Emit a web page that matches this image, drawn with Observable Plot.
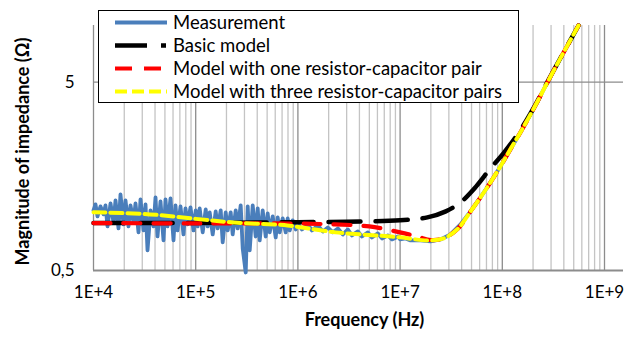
<!DOCTYPE html>
<html>
<head>
<meta charset="utf-8">
<script src="https://cdn.jsdelivr.net/npm/d3@7"></script>
<script src="https://cdn.jsdelivr.net/npm/@observablehq/plot@0.6"></script>
<style>
  html, body { margin: 0; padding: 0; background: #fff; }
  #wrap { position: relative; width: 624px; height: 338px; font-family: Lato, "Open Sans", sans-serif; }
  #legend { position: absolute; left: 98px; top: 10px; width: 419px; height: 91px; border: 1px solid #000; background: #fff; }
  #legend .row { position: absolute; left: 0; height: 23px; width: 100%; }
  #legend svg { position: absolute; left: 0; top: 0; }
  #legend span { position: absolute; left: 74px; top: 0; line-height: 23px; font-size: 18.5px; color: #000; white-space: nowrap; }
</style>
</head>
<body>
<div id="wrap"></div>
<script>
// ---- data ----
const seriesNames = ["Measurement", "Basic model", "Model with one resistor-capacitor pair", "Model with three resistor-capacitor pairs"];
const seriesColors = ["#4a7ebb", "#000000", "#ff0000", "#ffff00"];

const xTickValues = [1e4, 1e5, 1e6, 1e7, 1e8, 1e9];
const xTickLabels = ["1E+4", "1E+5", "1E+6", "1E+7", "1E+8", "1E+9"];
const yTickValues = [0.5, 5];
const yTickLabels = ["0,5", "5"];
const xTitle = "Frequency (Hz)";
const yTitle = "Magnitude of impedance (Ω)";

// Measurement (Hz, Ω)
const measFreq = [
  1.0e4,1.046e4,1.094e4,1.171e4,1.253e4,1.31e4,1.371e4,1.467e4,1.569e4,1.642e4,1.757e4,1.837e4,1.966e4,2.057e4,2.2e4,2.301e4,2.463e4,2.576e4,2.756e4,2.884e4,3.086e4,3.228e4,3.377e4,3.613e4,3.865e4,4.044e4,4.229e4,4.525e4,4.841e4,5.064e4,5.298e4,5.669e4,6.065e4,6.343e4,6.636e4,7.1e4,7.596e4,7.946e4,8.314e4,8.894e4,9.517e4,
  1.0e5,1.046e5,1.094e5,1.171e5,1.253e5,1.31e5,1.371e5,1.467e5,1.569e5,1.642e5,1.757e5,1.837e5,1.966e5,2.057e5,2.2e5,2.301e5,2.463e5,2.576e5,2.756e5,2.884e5,3.086e5,3.228e5,3.377e5,3.613e5,3.865e5,4.044e5,4.229e5,4.525e5,4.841e5,5.064e5,5.298e5,5.669e5,6.065e5,6.343e5,6.636e5,7.1e5,7.596e5,7.946e5,8.314e5,8.894e5,9.517e5,
  1.0e6,1.094e6,1.253e6,1.371e6,1.569e6,1.757e6,1.966e6,2.2e6,2.463e6,2.756e6,3.086e6,3.377e6,3.865e6,4.229e6,4.841e6,5.298e6,6.065e6,6.636e6,7.596e6,8.314e6,9.517e6,
  1.0e7,1.129e7,1.264e7,1.584e7,1.984e7,2.485e7,3.113e7,3.899e7,4.885e7,6.119e7,7.664e7,9.603e7,1.203e8,1.507e8,2.113e8,2.769e8,3.711e8,5.568e8
];
const measZ = [
  1.043,1.122,0.969,1.095,0.993,1.109,0.857,1.136,0.900,1.178,0.836,1.268,0.878,1.178,0.857,1.109,0.900,1.136,0.797,1.193,0.816,1.122,0.639,1.043,0.857,1.223,0.758,1.164,0.722,1.193,0.857,1.208,0.722,1.109,0.816,1.095,0.777,1.068,0.878,1.082,0.816,
  1.043,0.857,1.068,0.797,1.055,0.857,1.017,0.777,1.030,0.836,1.043,0.705,1.017,0.816,1.017,0.777,1.043,0.836,1.109,0.655,0.488,1.095,0.639,1.109,0.758,1.068,0.722,1.043,0.758,1.005,0.797,0.969,0.749,0.957,0.797,0.945,0.797,0.945,0.816,0.923,0.826,
  0.889,0.826,0.878,0.816,0.867,0.806,0.846,0.797,0.836,0.777,0.826,0.768,0.806,0.758,0.797,0.749,0.787,0.740,0.768,0.731,0.758,
  0.731,0.740,0.722,0.722,0.714,0.731,0.777,0.878,1.030,1.223,1.469,1.787,2.201,2.71,3.773,5.0,6.71,10.0
];

// Basic model
const basicFreq = [1e4, 1e5, 1e6, 3e6, 1e7, 1.85e7, 2.8e7, 3.9e7, 5.5e7, 7.67e7, 1.03e8, 1.5e8, 2.113e8, 2.77e8, 3.71e8, 5.57e8];
const basicZ    = [0.893, 0.895, 0.903, 0.908, 0.923, 0.957, 1.03, 1.15, 1.39, 1.745, 2.10, 2.78, 3.80, 5.03, 6.72, 10.0];

// Model with one resistor-capacitor pair
const oneFreq = [1e4, 1e5, 1e6, 2.3e6, 5e6, 1e7, 1.5e7, 2e7, 2.66e7, 3.65e7, 4.89e7, 6.12e7, 7.66e7, 9.6e7, 1.2e8, 1.507e8, 2.113e8, 2.77e8, 3.71e8, 5.57e8];
const oneZ    = [0.893, 0.889, 0.887, 0.878, 0.857, 0.797, 0.755, 0.726, 0.74, 0.83, 1.03, 1.223, 1.469, 1.787, 2.2, 2.71, 3.77, 5.0, 6.71, 10.0];

// Model with three resistor-capacitor pairs
const threeFreq = [1e4, 3.6e4, 1e5, 2.34e5, 7.9e5, 1.1e6, 2.33e6, 5.37e6, 1e7, 1.85e7, 2.66e7, 3.65e7, 4.89e7, 6.12e7, 7.66e7, 9.6e7, 1.2e8, 1.507e8, 2.113e8, 2.77e8, 3.71e8, 5.57e8];
const threeZ    = [1.02, 0.993, 0.94, 0.90, 0.868, 0.846, 0.797, 0.77, 0.75, 0.722, 0.74, 0.83, 1.03, 1.223, 1.469, 1.787, 2.2, 2.71, 3.77, 5.0, 6.71, 10.0];

// ---- build ----
const toRows = (fs, zs) => fs.map((f, i) => ({f, z: zs[i]}));
const meas = toRows(measFreq, measZ);
const basic = toRows(basicFreq, basicZ);
const one = toRows(oneFreq, oneZ);
const three = toRows(threeFreq, threeZ);

const minorTicks = [];
for (let e = 4; e < 9; e++) for (let m = 2; m <= 9; m++) minorTicks.push(m * Math.pow(10, e));

const chart = Plot.plot({
  width: 624,
  height: 338,
  marginLeft: 93,
  marginRight: 1,
  marginTop: 25,
  marginBottom: 68,
  x: {type: "log", domain: [1e4, 1e9], range: [93, 604], axis: null},
  y: {type: "log", domain: [0.5, 10], axis: null},
  style: {fontFamily: "Lato, 'Open Sans', sans-serif", background: "#fff", color: "#000"},
  marks: [
    Plot.ruleX(minorTicks, {stroke: "#c4c4c4", strokeWidth: 1.3}),
    Plot.ruleX(xTickValues, {stroke: "#8c8c8c", strokeWidth: 1.3}),
    Plot.ruleY([5], {stroke: "#8c8c8c", strokeWidth: 1.3}),
    Plot.ruleY([0.5], {stroke: "#8c8c8c", strokeWidth: 2}),
    Plot.line(meas, {x: "f", y: "z", stroke: seriesColors[0], strokeWidth: 3.8, strokeLinejoin: "round"}),
    Plot.line(basic, {x: "f", y: "z", stroke: seriesColors[1], strokeWidth: 4.5, strokeDasharray: "32,15", curve: "catmull-rom"}),
    Plot.line(one, {x: "f", y: "z", stroke: seriesColors[2], strokeWidth: 4.2, strokeDasharray: "17,13", curve: "catmull-rom"}),
    Plot.line(three, {x: "f", y: "z", stroke: seriesColors[3], strokeWidth: 4, strokeDasharray: "12,5", curve: "catmull-rom"}),
    Plot.text(xTickValues, {x: d => d, text: (d, i) => xTickLabels[i], frameAnchor: "bottom", dy: 27, fontSize: 17}),
    Plot.text(yTickValues, {y: d => d, text: (d, i) => yTickLabels[i], frameAnchor: "left", dx: -19, textAnchor: "end", fontSize: 17}),
    Plot.text([xTitle], {text: d => d, frameAnchor: "bottom", dy: 55, dx: 6, textAnchor: "middle", fontWeight: "bold", fontSize: 18}),
    Plot.text([yTitle], {text: d => d, frameAnchor: "left", dx: -70, dy: 3.5, textAnchor: "middle", rotate: -90, fontWeight: "bold", fontSize: 18})
  ]
});

const wrap = document.getElementById("wrap");
wrap.appendChild(chart);

// legend (HTML overlay)
const legend = document.createElement("div");
legend.id = "legend";
const dashes = [null, "32,14,5,14", "17,12", "12,5"];
const widths = [4, 4.5, 4.2, 4];
seriesNames.forEach((name, i) => {
  const row = document.createElement("div");
  row.className = "row";
  row.style.top = (i * 23) + "px";
  const ns = "http://www.w3.org/2000/svg";
  const svg = document.createElementNS(ns, "svg");
  svg.setAttribute("width", "74");
  svg.setAttribute("height", "23");
  const ln = document.createElementNS(ns, "line");
  ln.setAttribute("x1", "16"); ln.setAttribute("x2", "68");
  ln.setAttribute("y1", "11.5"); ln.setAttribute("y2", "11.5");
  ln.setAttribute("stroke", seriesColors[i]);
  ln.setAttribute("stroke-width", widths[i]);
  if (dashes[i]) ln.setAttribute("stroke-dasharray", dashes[i]);
  svg.appendChild(ln);
  row.appendChild(svg);
  const sp = document.createElement("span");
  sp.textContent = name;
  row.appendChild(sp);
  legend.appendChild(row);
});
wrap.appendChild(legend);
</script>
</body>
</html>
